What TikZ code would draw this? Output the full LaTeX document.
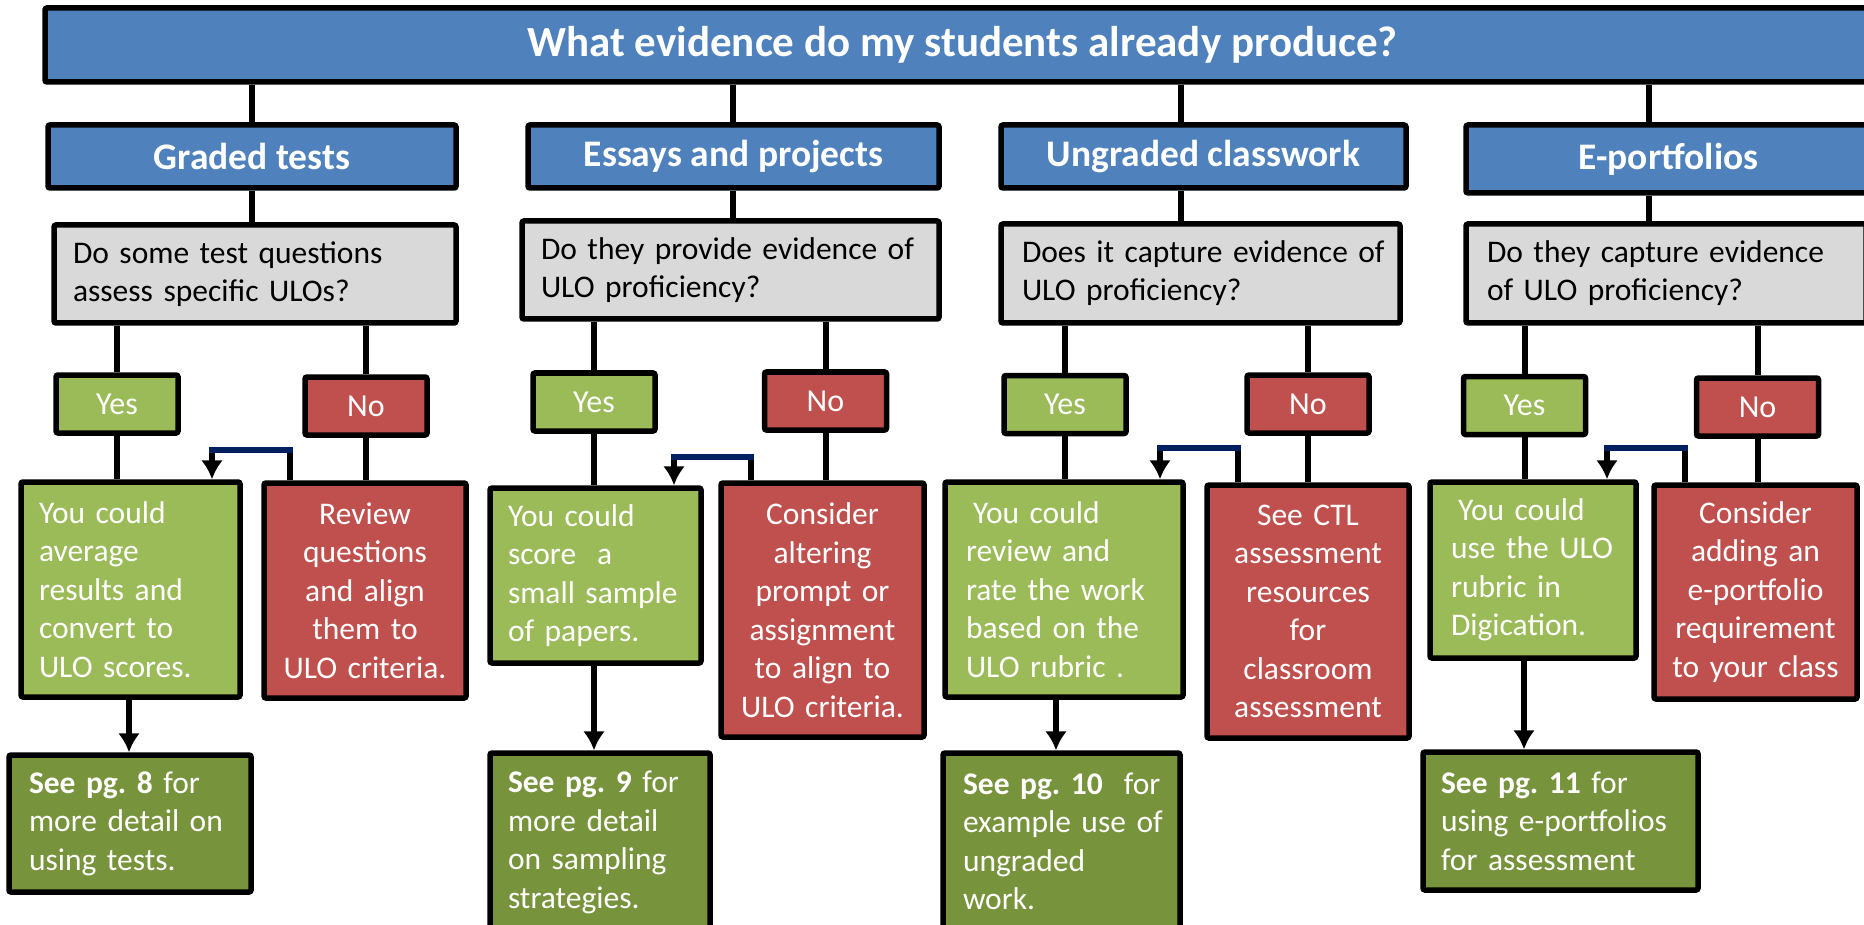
\documentclass[tikz,border=0pt]{standalone}
\usepackage{fontspec}
\setmainfont{Carlito}
\usetikzlibrary{arrows.meta}
\definecolor{cblue}{HTML}{4F81BD}
\definecolor{cgray}{HTML}{D9D9D9}
\definecolor{cgreen}{HTML}{9BBB59}
\definecolor{cred}{HTML}{C0504D}
\definecolor{cdgreen}{HTML}{77933C}
\definecolor{cnavy}{HTML}{002060}
\frenchspacing
\hyphenpenalty=10000
\exhyphenpenalty=10000
\begin{document}
\begin{tikzpicture}[x=1pt,y=-1pt,
  box/.style={draw=black, line width=5.5pt, rounded corners=2pt, inner sep=0pt, font=\fontsize{31.5}{38.5}\selectfont},
  topbox/.style={box, fill=cblue, text=white, font=\bfseries\fontsize{43}{48}\selectfont},
  catbox/.style={box, fill=cblue, text=white, font=\bfseries\fontsize{37.5}{42}\selectfont},
  qbox/.style={box, fill=cgray, text=black, align=left, font=\fontsize{31.5}{38}\selectfont},
  yesbox/.style={box, fill=cgreen, text=white, minimum width=122pt, minimum height=58pt, font=\fontsize{32}{36}\selectfont},
  nobox/.style={box, fill=cred, text=white, minimum width=122pt, minimum height=58pt, font=\fontsize{32}{36}\selectfont},
  gres/.style={box, fill=cgreen, text=white, align=left},
  rres/.style={box, fill=cred, text=white, align=center},
  seebox/.style={box, fill=cdgreen, text=white, align=left},
  conn/.style={draw=black, line width=6pt},
  arr/.style={conn, -{Latex[length=19pt,width=22pt]}},
  navyline/.style={draw=cnavy, line width=6pt}
]
\useasboundingbox (0,0) rectangle (1864,925);
\clip (0,0) rectangle (1864,925);
\fill[white] (0,0) rectangle (1864,925);

% top and categories
\node[topbox, minimum width=1835pt, minimum height=74pt] (top) at (962.5,45) {What evidence do my students already produce?};
\node[catbox, minimum width=408pt, minimum height=63pt] (c1) at (252,156.5) {Graded tests};
\node[catbox, minimum width=411pt, minimum height=63pt] (c2) at (733.5,156.5) {Essays and projects};
\node[catbox, minimum width=405pt, minimum height=63pt] (c3) at (1203.5,156.5) {Ungraded classwork};
\node[catbox, minimum width=405pt, minimum height=68pt] (c4) at (1668.5,159) {E-portfolios};

% questions
\node[qbox, minimum width=402pt, minimum height=98pt, text width=364pt] (q1) at (255,274) {\mbox{Do some test questions}\\\mbox{assess specific ULOs?}};
\node[qbox, minimum width=417pt, minimum height=98pt, text width=379pt] (q2) at (730.5,270) {\mbox{Do they provide evidence of}\\\mbox{ULO proficiency?}};
\node[qbox, minimum width=399pt, minimum height=99pt, text width=357pt] (q3) at (1200.5,273.5) {\mbox{Does it capture evidence of}\\\mbox{ULO proficiency?}};
\node[qbox, minimum width=400pt, minimum height=99pt, text width=358pt] (q4) at (1666,273.5) {\mbox{Do they capture evidence}\\\mbox{of ULO proficiency?}};

% yes / no
\node[yesbox] (y1) at (117,404) {Yes};
\node[nobox] (n1) at (366,406) {No};
\node[yesbox] (y2) at (594,402) {Yes};
\node[nobox] (n2) at (825.5,401) {No};
\node[yesbox] (y3) at (1065,404.5) {Yes};
\node[nobox] (n3) at (1308,404) {No};
\node[yesbox] (y4) at (1524.5,405.5) {Yes};
\node[nobox] (n4) at (1757.5,407) {No};

% results
\node[gres, minimum width=219pt, minimum height=215pt, text width=183pt] (r1y) at (130.5,589.5) {\mbox{You could}\\average\\\mbox{results and}\\\mbox{convert to}\\\mbox{ULO scores.}};
\node[rres, minimum width=202pt, minimum height=215pt, text width=190pt] (r1n) at (365,590.5) {Review\\questions\\\mbox{and align}\\\mbox{them to}\\\mbox{ULO criteria.}};
\node[gres, minimum width=211pt, minimum height=175pt, text width=175pt] (r2y) at (595.5,575.5) {\mbox{You could}\\\mbox{score\ \ a}\\\mbox{small sample}\\\mbox{of papers.}};
\node[rres, minimum width=203pt, minimum height=254pt, text width=195pt] (r2n) at (822.5,610) {Consider\\altering\\\mbox{prompt or}\\assignment\\\mbox{to align to}\\\mbox{ULO criteria.}};
\node[gres, minimum width=238pt, minimum height=215pt, text width=196pt] (r3y) at (1064,589.5) {\hspace*{7pt}\mbox{You could}\\\mbox{review and}\\\mbox{rate the work}\\\mbox{based on the}\\\mbox{ULO rubric .}};
\node[rres, minimum width=202pt, minimum height=253pt, text width=195pt] (r3n) at (1308,611.5) {\mbox{See CTL}\\assessment\\resources\\for\\classroom\\assessment};
\node[gres, minimum width=206pt, minimum height=176pt, text width=164pt] (r4y) at (1533,570) {\hspace*{7pt}\mbox{You could}\\\mbox{use the ULO}\\\mbox{rubric in}\\Digication.};
\node[rres, minimum width=203pt, minimum height=214pt, text width=195pt] (r4n) at (1755.5,592) {Consider\\\mbox{adding an}\\e-portfolio\\requirement\\\mbox{to your class}};

% see boxes
\node[seebox, minimum width=242pt, minimum height=137pt, text width=202pt] (s1) at (130,823.5) {\mbox{\textbf{See pg. 8} for}\\\mbox{more detail on}\\\mbox{using tests.}};
\node[seebox, minimum width=220pt, minimum height=179pt, text width=184pt] (s2) at (600,842.5) {\mbox{\textbf{See pg. 9} for}\\\mbox{more detail}\\\mbox{on sampling}\\strategies.};
\node[seebox, minimum width=237pt, minimum height=177pt, text width=197pt] (s3) at (1061.5,841.5) {\mbox{\textbf{See pg. 10}\ \ for}\\\mbox{example use of}\\ungraded\\work.};
\node[seebox, minimum width=275pt, minimum height=138pt, text width=239pt] (s4) at (1560.5,821) {\mbox{\textbf{See pg. 11} for}\\\mbox{using e-portfolios}\\\mbox{for assessment}};

% connector positions
\coordinate (k1) at (252,0);
\coordinate (k2) at (733,0);
\coordinate (k3) at (1181,0);
\coordinate (k4) at (1649,0);
\coordinate (a1) at (129,0);
\coordinate (a2) at (594,0);
\coordinate (a3) at (1056,0);
\coordinate (a4) at (1524,0);
\coordinate (rt1) at (290,450);  \coordinate (lt1) at (212,450);
\coordinate (rt2) at (751,457);  \coordinate (lt2) at (674,457);
\coordinate (rt3) at (1238,448); \coordinate (lt3) at (1160,448);
\coordinate (rt4) at (1685,448); \coordinate (lt4) at (1607,448);

\foreach \i in {1,2,3,4}{
  \draw[conn] (top.south -| k\i) -- (c\i.north -| k\i);
  \draw[conn] (c\i.south -| k\i) -- (q\i.north -| k\i);
  \draw[conn] (q\i.south -| y\i) -- (y\i.north);
  \draw[conn] (q\i.south -| n\i) -- (n\i.north);
  \draw[conn] (y\i.south) -- (y\i.south |- r\i y.north);
  \draw[conn] (n\i.south) -- (n\i.south |- r\i n.north);
  \draw[arr] (r\i y.south -| a\i) -- (s\i.north -| a\i);
  \draw[arr] (r\i n.north -| rt\i) -- (rt\i) -- (lt\i) -- (r\i y.north -| lt\i);
  \draw[navyline] ([xshift=3pt]rt\i) -- ([xshift=-3pt]lt\i);
}
\end{tikzpicture}
\end{document}
